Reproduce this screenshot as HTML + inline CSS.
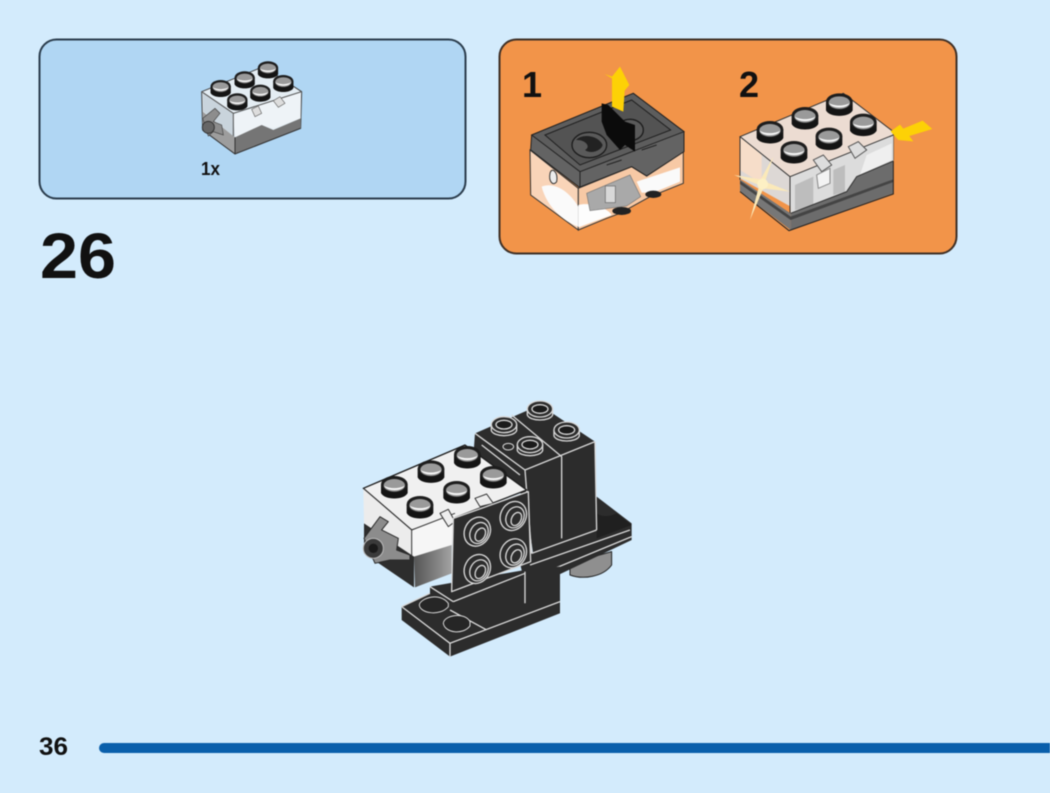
<!DOCTYPE html>
<html lang="en"><head><meta charset="utf-8"><title>Step 26</title>
<style>
html,body{margin:0;padding:0;background:#d3ebfc}
svg{display:block;filter:blur(.55px)}
text{font-family:"Liberation Sans",sans-serif;font-weight:700;fill:#111}
</style></head><body>
<svg xmlns="http://www.w3.org/2000/svg" xmlns:xlink="http://www.w3.org/1999/xlink" width="1050" height="793" viewBox="0 0 1050 793">
<defs>
<linearGradient id="lg" x1="0" y1="0" x2="1" y2="0"><stop offset="0" stop-color="#555"/><stop offset="1" stop-color="#a2a2a2"/></linearGradient>
<g id="stud">
  <path d="M-40 -12V14C-30 36 30 36 40 14V-12Z" fill="#141414"/>
  <ellipse cx="0" cy="-12" rx="40" ry="25" fill="#1d1d1d"/>
  <ellipse cx="0" cy="-9" rx="32" ry="19" fill="#9a9a9a"/>
  <path d="M-31 -8C-15 2 15 2 31 -8C24 10 -24 10 -31 -8Z" fill="#f7f7f7"/>
</g>
<g id="ring" fill="none" stroke="#d8d8d8" stroke-width="4">
  <path d="M-38 -8V10C-30 30 30 30 38 10V-8" fill="#2c2c2c"/>
  <ellipse cx="0" cy="-8" rx="38" ry="24" fill="#2c2c2c"/>
  <ellipse cx="0" cy="-8" rx="24" ry="13" fill="#1b1b1b"/>
</g>
<g id="fs" fill="none" stroke="#d8d8d8" stroke-width="4">
  <ellipse cx="0" cy="0" rx="38" ry="45" transform="rotate(28)" fill="#2c2c2c"/>
  <ellipse cx="5" cy="4" rx="26" ry="33" transform="rotate(28 5 4)"/>
  <ellipse cx="9" cy="9" rx="14" ry="21" transform="rotate(28 9 9)"/>
</g>
</defs>

<rect width="1050" height="793" fill="#d3ebfc"/>
<rect x="39.5" y="39.5" width="426" height="159" rx="17" fill="#b0d6f3" stroke="#2b3d4d" stroke-width="2"/>
<rect x="499.5" y="39.5" width="457" height="214" rx="17" fill="#f29449" stroke="#3f3026" stroke-width="2"/>

<text x="40" y="278" font-size="64" textLength="76" lengthAdjust="spacingAndGlyphs">26</text>
<text x="39" y="755" font-size="25" textLength="29" lengthAdjust="spacingAndGlyphs">36</text>
<text x="201" y="175" font-size="18" textLength="19" lengthAdjust="spacingAndGlyphs">1x</text>
<text x="522" y="97" font-size="36">1</text>
<text x="739" y="97" font-size="36">2</text>
<rect x="99" y="743" width="960" height="10" rx="5" fill="#0a5fab"/>

<!-- Parts list brick -->
<g transform="translate(180,50) scale(.3333)">
  <path d="M65 125L250 50L365 125L362 235L165 312L68 240Z" fill="#e4edf3" stroke="#444" stroke-width="3"/>
  <path d="M68 125L160 190L165 262L70 185Z" fill="#c9d4dc"/>
  <path d="M160 195L362 125V205L280 235L245 225L165 262Z" fill="#eef3f7"/>
  <path d="M65 125L160 190L365 125M160 190V262" fill="none" stroke="#555" stroke-width="3"/>
  <path d="M165 262L245 225L280 240L362 205V235L165 312Z" fill="#757575"/>
  <path d="M68 185L165 262V312L68 240Z" fill="#9d9d9d"/>
  <path d="M165 312V262M68 240L165 312L362 235" fill="none" stroke="#333" stroke-width="3"/>
  <path d="M68 205L105 175L120 190L100 215L125 225L130 255L100 245L85 258Z" fill="#8d8d8d" stroke="#444" stroke-width="2"/>
  <circle cx="85" cy="232" r="18" fill="#666" stroke="#333" stroke-width="3"/>
  <path d="M280 152L300 140L315 160L295 172ZM215 178L235 168L245 190L225 200Z" fill="#ddd" stroke="#666" stroke-width="2"/>
  <use xlink:href="#stud" transform="translate(122,118) scale(.76)"/>
  <use xlink:href="#stud" transform="translate(194,92) scale(.76)"/>
  <use xlink:href="#stud" transform="translate(264,62) scale(.76)"/>
  <use xlink:href="#stud" transform="translate(172,158) scale(.76)"/>
  <use xlink:href="#stud" transform="translate(241,132) scale(.76)"/>
  <use xlink:href="#stud" transform="translate(310,103) scale(.76)"/>
</g>

<!-- Step 1 -->
<g transform="translate(510,50) scale(.3333)">
  <path d="M60 300L205 415V540L62 435Z" fill="#f9d4b8" stroke="#333" stroke-width="3"/>
  <path d="M205 415L365 350L410 378L520 305V400L420 440L330 490L290 505L205 540Z" fill="#f7c9a5" stroke="#333" stroke-width="3"/>
  <path d="M95 410C130 395 175 420 205 470V530C160 515 110 470 95 410Z" fill="#fafafa"/>
  <path d="M120 370C125 350 145 365 140 395C130 410 115 395 120 370Z" fill="#ececec" stroke="#333" stroke-width="3"/>
  <path d="M205 465C240 455 295 475 305 495L205 532Z" fill="#fdfdfd"/>
  <path d="M230 430L360 375L392 440L350 468L240 482Z" fill="#a9a9a9" stroke="#777" stroke-width="2"/>
  <rect x="286" y="408" width="30" height="50" fill="#d8d8d8" stroke="#666" stroke-width="2"/>
  <path d="M380 395L450 372L510 352V395L430 428L395 428Z" fill="#fafafa"/>
  <ellipse cx="335" cy="483" rx="28" ry="12" fill="#222"/>
  <ellipse cx="430" cy="433" rx="24" ry="11" fill="#222"/>
  <path d="M65 255L370 130L522 245V305L410 378L365 350L208 412L62 300Z" fill="#636363" stroke="#222" stroke-width="3"/>
  <path d="M65 255L210 365L522 245L370 130Z" fill="#5d5d5d" stroke="#222" stroke-width="3"/>
  <path d="M105 255L365 150L482 240L210 345Z" fill="#535353" stroke="#1f1f1f" stroke-width="3"/>
  <path d="M210 365V412M290 345L335 330M395 300L440 285" stroke="#222" stroke-width="3"/>
  <ellipse cx="238" cy="285" rx="52" ry="38" fill="#5a5a5a" stroke="#1c1c1c" stroke-width="4"/>
  <path d="M198 270C215 250 265 255 278 285C272 305 240 312 225 300C245 290 225 268 198 270Z" fill="#222"/>
  <ellipse cx="360" cy="240" rx="40" ry="32" fill="#5a5a5a" stroke="#1c1c1c" stroke-width="4"/>
  <path d="M306 80L330 50L358 105L344 122L340 185L306 170V85L284 72Z" fill="#fdd106"/>
  <path d="M275 160L295 165L345 215L375 225V305L345 285L330 300L290 255L275 215Z" fill="#0b0b0b"/>
</g>

<!-- Step 2 -->
<g transform="translate(720,60) scale(.3333)">
  <path d="M60 230L370 100L520 215V300L210 355Z" fill="#ecdcd2" stroke="#333" stroke-width="3"/>
  <path d="M60 230L210 350L212 440L60 355Z" fill="#ddd8d5"/>
  <path d="M60 230L125 285V370L60 330Z" fill="#f6ddc9"/>
  <path d="M210 350L520 225V305L410 350L380 395L212 460Z" fill="#dcdcdc"/>
  <path d="M225 375L280 350V440L225 450ZM340 330L375 315V395L340 405Z" fill="#bdbdbd"/>
  <path d="M440 285L515 250V300L420 345Z" fill="#efefef"/>
  <path d="M60 230L210 350L520 225M210 350V460M60 230V360" fill="none" stroke="#333" stroke-width="3"/>
  <path d="M212 460L380 395L410 350L520 303V400L212 510Z" fill="#6c6c6c"/>
  <path d="M60 358L212 460V510L60 395Z" fill="#777"/>
  <path d="M212 460L380 395L410 350L520 303" fill="none" stroke="#333" stroke-width="3"/>
  <path d="M212 470L520 358V366L212 480L60 372V362Z" fill="#444"/>
  <path d="M60 395L207 512L520 402V303" fill="none" stroke="#222" stroke-width="3"/>
  <path d="M280 300L310 285L335 315L305 335ZM385 260L415 245L440 270L405 295Z" fill="#ddd" stroke="#555" stroke-width="3"/>
  <path d="M290 345L330 325V370L295 385Z" fill="#f3f3f3" stroke="#888" stroke-width="3"/>
  <use xlink:href="#stud" transform="translate(150,220) scale(1)"/>
  <use xlink:href="#stud" transform="translate(255,178) scale(1)"/>
  <use xlink:href="#stud" transform="translate(358,137) scale(1)"/>
  <use xlink:href="#stud" transform="translate(222,280) scale(1)"/>
  <use xlink:href="#stud" transform="translate(327,240) scale(1)"/>
  <use xlink:href="#stud" transform="translate(430,198) scale(1)"/>
  <path d="M90 480L118 375L42 345L122 358L160 290L135 365L210 395L130 385Z" fill="#fbe9b9"/>
  <circle cx="128" cy="372" r="16" fill="#fdf0c4"/>
  <path d="M512 214L540 194L550 206L608 182L637 207L568 228L580 244L535 240Z" fill="#fdd106"/>
</g>

<!-- Main model -->
<g transform="translate(340,390) scale(.3333)" stroke-linejoin="round">
  <!-- under stud -->
  <path d="M690 520V555C730 570 790 560 815 525V485Z" fill="#8f8f8f" stroke="#222" stroke-width="3"/>
  <!-- right plate -->
  <path d="M770 320L875 400V450L560 600L540 520Z" fill="#2c2c2c"/>
  <path d="M770 370C790 385 820 375 830 370L875 405L770 445Z" fill="#202020"/>
  <path d="M570 525L870 420M560 570L875 440" stroke="#d8d8d8" stroke-width="4" fill="none"/>
  <!-- lower body + base plate -->
  <path d="M270 590L555 540L660 530V670L330 800L185 690V650L270 610Z" fill="#2c2c2c"/>
  <path d="M555 545V640M340 635L555 550M185 650L330 760L660 635M330 760V800M185 650L270 610M270 590L340 635M330 660L440 720" stroke="#d8d8d8" stroke-width="4" fill="none"/>
  <path d="M238 645C240 625 300 605 325 640V650C300 680 240 670 238 645Z" fill="#262626" stroke="#d8d8d8" stroke-width="3"/>
  <path d="M310 700C312 675 375 665 390 695V708C370 735 315 730 310 700Z" fill="#262626" stroke="#d8d8d8" stroke-width="3"/>
  <!-- tall bricks -->
  <path d="M405 130L600 45L765 155L770 420L580 495L555 320L400 200Z" fill="#2c2c2c"/>
  <path d="M405 130L555 240L765 155M515 75L665 200V445M555 240L575 490M575 490L770 420M765 155L770 420M425 165L540 255" stroke="#d8d8d8" stroke-width="4" fill="none"/>
  <use xlink:href="#ring" transform="translate(492,112)"/>
  <use xlink:href="#ring" transform="translate(600,65)"/>
  <use xlink:href="#ring" transform="translate(570,172)"/>
  <use xlink:href="#ring" transform="translate(680,128)"/>
  <ellipse cx="505" cy="170" rx="16" ry="10" fill="#2c2c2c" stroke="#d8d8d8" stroke-width="3"/>
  <!-- sound brick -->
  <path d="M70 295L375 165L560 300L340 385L215 420Z" fill="#f0f0f0" stroke="#1c1c1c" stroke-width="4"/>
  <path d="M70 295L215 420L220 500L72 400Z" fill="#ececec"/>
  <path d="M215 420L345 370L335 470L220 510Z" fill="#f6f6f6"/>
  <path d="M70 295L215 420L345 370M215 420V500" stroke="#333" stroke-width="3" fill="none"/>
  <path d="M222 500L335 465V550L225 592Z" fill="url(#lg)"/>
  <path d="M72 400L222 500V592L72 490Z" fill="#2d2d2d"/>
  <path d="M72 445L120 380L145 395L125 420L175 445L170 480L210 495V510L150 510L105 520Z" fill="#8c8c8c" stroke="#2b2b2b" stroke-width="3"/>
  <circle cx="100" cy="475" r="30" fill="#3a3a3a" stroke="#bbb" stroke-width="3"/>
  <circle cx="100" cy="475" r="14" fill="#1a1a1a"/>
  <path d="M300 370L325 358L345 395L325 410ZM405 325L440 312L460 340L420 350Z" fill="#eee" stroke="#333" stroke-width="3"/>
  <use xlink:href="#stud" transform="translate(163,295) scale(1)"/>
  <use xlink:href="#stud" transform="translate(273,248) scale(1)"/>
  <use xlink:href="#stud" transform="translate(382,205) scale(1)"/>
  <use xlink:href="#stud" transform="translate(240,355) scale(1)"/>
  <use xlink:href="#stud" transform="translate(350,310) scale(1)"/>
  <use xlink:href="#stud" transform="translate(460,265) scale(1)"/>
  <!-- front plate -->
  <path d="M340 385L565 305L572 515L335 605Z" fill="#2c2c2c" stroke="#d8d8d8" stroke-width="4"/>
  <use xlink:href="#fs" transform="translate(412,425)"/>
  <use xlink:href="#fs" transform="translate(520,378)"/>
  <use xlink:href="#fs" transform="translate(412,537)"/>
  <use xlink:href="#fs" transform="translate(520,490)"/>
</g>
</svg>
</body></html>
